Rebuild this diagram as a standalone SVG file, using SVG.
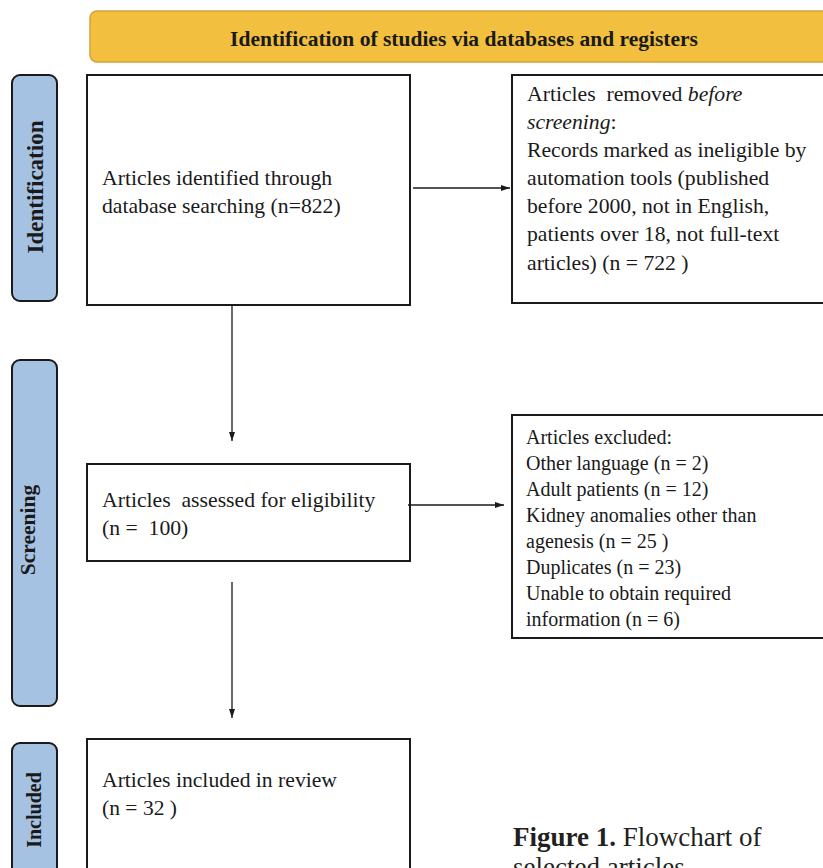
<svg xmlns="http://www.w3.org/2000/svg" width="823" height="868" viewBox="0 0 823 868">
<style>
text{white-space:pre}
.box{fill:#fff;stroke:#1a1a1a;stroke-width:2}
.side{fill:#a6c2e2;stroke:#1a1a1a;stroke-width:2}
.t{font-family:"Liberation Serif","Times New Roman",serif;font-size:21.7px;fill:#1a1a1a}
.t2{font-family:"Liberation Serif","Times New Roman",serif;font-size:20px;fill:#1a1a1a}
.sl{font-family:"Liberation Serif","Times New Roman",serif;font-weight:bold;fill:#1a1a1a;text-anchor:middle}
.conn{stroke:#1a1a1a;stroke-width:1.3;fill:none;marker-end:url(#ah)}
</style>
<defs>
<marker id="ah" markerWidth="9" markerHeight="6" refX="9" refY="3" orient="auto" markerUnits="userSpaceOnUse">
<path d="M0,0 L9,3 L0,6 Z" fill="#1a1a1a"/>
</marker>
</defs>
<rect width="823" height="868" fill="#fff"/>
<g id="banner">
<rect x="90" y="11" width="745" height="51" rx="7" fill="#f2c03e" stroke="#d4a23a" stroke-width="1.5"/>
<text x="464" y="46" font-family="Liberation Serif,'Times New Roman',serif" font-size="21.5" font-weight="bold" text-anchor="middle" fill="#1a1a1a">Identification of studies via databases and registers</text>
</g>
<g id="side-identification">
<rect class="side" x="12" y="75" width="45" height="226" rx="8"/>
<text class="sl" font-size="23" transform="translate(43,187) rotate(-90)">Identification</text>
</g>
<g id="side-screening">
<rect class="side" x="12" y="360" width="45" height="346" rx="8"/>
<text class="sl" font-size="21.5" transform="translate(35,530) rotate(-90)">Screening</text>
</g>
<g id="side-included">
<rect class="side" x="12" y="743" width="45" height="140" rx="8"/>
<text class="sl" font-size="20" transform="translate(41,810) rotate(-90)">Included</text>
</g>
<g id="n1">
<rect class="box" x="87" y="75" width="323" height="230"/>
<text class="t" x="102" y="185">Articles identified through</text>
<text class="t" x="102" y="213">database searching (n=822)</text>
</g>
<g id="n2">
<rect class="box" x="512" y="75" width="330" height="228"/>
<text class="t" x="527" y="101">Articles  removed <tspan font-style="italic">before</tspan></text>
<text class="t" x="527" y="129"><tspan font-style="italic">screening</tspan>:</text>
<text class="t" x="527" y="157">Records marked as ineligible by</text>
<text class="t" x="527" y="185">automation tools (published</text>
<text class="t" x="527" y="213">before 2000, not in English,</text>
<text class="t" x="527" y="241">patients over 18, not full-text</text>
<text class="t" x="527" y="270">articles) (n = 722 )</text>
</g>
<g id="n3">
<rect class="box" x="87" y="464" width="323" height="97"/>
<text class="t" x="102" y="507">Articles  assessed for eligibility</text>
<text class="t" x="102" y="535">(n =  100)</text>
</g>
<g id="n4">
<rect class="box" x="512" y="415" width="330" height="223"/>
<text class="t2" x="526" y="444">Articles excluded:</text>
<text class="t2" x="526" y="470">Other language (n = 2)</text>
<text class="t2" x="526" y="496">Adult patients (n = 12)</text>
<text class="t2" x="526" y="522">Kidney anomalies other than</text>
<text class="t2" x="526" y="548">agenesis (n = 25 )</text>
<text class="t2" x="526" y="574">Duplicates (n = 23)</text>
<text class="t2" x="526" y="600">Unable to obtain required</text>
<text class="t2" x="526" y="626">information (n = 6)</text>
</g>
<g id="n5">
<rect class="box" x="87" y="739" width="323" height="150"/>
<text class="t2" font-size="21" x="102" y="787" textLength="235" lengthAdjust="spacingAndGlyphs">Articles included in review</text>
<text class="t2" font-size="21" x="102" y="815" textLength="75" lengthAdjust="spacingAndGlyphs">(n = 32 )</text>
</g>
<g id="connectors">
<line class="conn" x1="413" y1="188" x2="510" y2="188"/>
<line class="conn" x1="232" y1="305" x2="232" y2="441"/>
<line class="conn" x1="408" y1="505" x2="504" y2="505"/>
<line class="conn" x1="232" y1="582" x2="232" y2="718"/>
</g>
<g id="caption" font-family="Liberation Serif,'Times New Roman',serif" fill="#231f20" font-size="27">
<text x="513" y="846"><tspan font-weight="bold">Figure 1.</tspan> Flowchart of</text>
<text x="513" y="876">selected articles</text>
</g>
</svg>
